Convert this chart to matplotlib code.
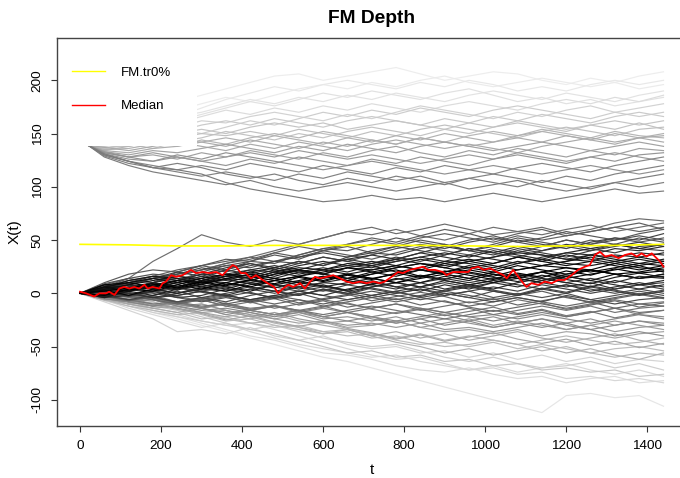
"""FM Depth - functional data coloured by Fraiman-Muniz depth."""

import matplotlib.pyplot as plt
import matplotlib.patches as mpatches
import numpy as np

plt.rcParams['font.family'] = ['Liberation Sans', 'DejaVu Sans']
plt.rcParams['axes.unicode_minus'] = False

# grid of the sampled curves (every 60 steps of t)
t_grid = list(range(0, 1441, 60))
t_grid_up = [20] + list(range(60, 1441, 60))

# curves that start at 0
lower = [
    [0, 8, 14, 30, 42, 55, 48, 44, 50, 46, 52, 58, 55, 60, 54, 50, 56, 62, 58, 55, 60, 64, 58, 62, 66],
    [0, 6, 12, 10, 18, 22, 28, 34, 40, 46, 52, 58, 62, 56, 60, 65, 60, 55, 58, 62, 56, 60, 66, 70, 68],
    [0, 4, 8, 14, 12, 20, 26, 30, 28, 36, 42, 40, 46, 52, 48, 44, 50, 54, 48, 52, 58, 54, 50, 56, 60],
    [0, -2, 6, 10, 16, 14, 22, 28, 24, 30, 26, 34, 38, 36, 42, 46, 40, 44, 50, 46, 42, 48, 52, 50, 56],
    [0, 10, 18, 22, 20, 26, 32, 30, 38, 34, 40, 36, 32, 38, 44, 40, 36, 42, 38, 44, 50, 46, 52, 48, 52],
    [0, 2, 8, 6, 12, 18, 16, 22, 20, 26, 30, 26, 24, 30, 34, 30, 36, 32, 28, 34, 38, 36, 42, 40, 44],
    [0, 6, 4, 10, 14, 10, 16, 20, 24, 20, 18, 24, 28, 32, 28, 26, 30, 34, 38, 36, 32, 30, 36, 34, 38],
    [0, -4, 2, 8, 6, 12, 10, 16, 22, 18, 22, 28, 26, 20, 24, 30, 28, 24, 30, 26, 30, 36, 32, 28, 32],
    [0, 5, 12, 16, 14, 10, 16, 14, 20, 24, 22, 18, 22, 26, 22, 20, 26, 22, 28, 32, 28, 26, 30, 26, 30],
    [0, 3, -2, 4, 8, 14, 18, 16, 12, 16, 20, 24, 20, 24, 28, 24, 20, 16, 22, 26, 24, 20, 24, 28, 26],
    [0, 8, 10, 6, 12, 8, 14, 18, 14, 10, 16, 12, 18, 22, 16, 20, 24, 20, 26, 22, 18, 22, 28, 24, 22],
    [0, -2, 4, 2, 8, 4, 10, 6, 12, 16, 12, 18, 14, 10, 14, 18, 22, 18, 14, 20, 24, 22, 18, 20, 24],
    [0, 4, 2, 8, 4, 10, 6, 2, 8, 12, 16, 12, 8, 14, 10, 16, 12, 18, 14, 10, 16, 12, 18, 14, 16],
    [0, -3, 2, -2, 4, 8, 4, 10, 14, 10, 6, 10, 14, 10, 16, 12, 8, 12, 16, 12, 18, 22, 18, 14, 18],
    [0, 2, 6, 4, 0, 4, 8, 12, 8, 4, 8, 2, 6, 10, 6, 12, 8, 4, 10, 14, 10, 6, 12, 8, 12],
    [0, -4, -2, 2, 6, 2, -2, 4, 8, 6, 10, 8, 12, 6, 10, 4, 8, 12, 8, 4, 8, 2, 6, 10, 6],
    [0, 3, 0, -4, 0, 4, 2, 6, 2, -2, 4, 0, 6, 10, 6, 2, 6, 10, 14, 10, 6, 10, 4, 8, 10],
    [0, -2, -6, -2, 2, -4, 0, 4, 0, 6, 2, 8, 4, 0, 4, -2, 2, 6, 2, 8, 4, 0, 4, 8, 4],
    [0, 2, -2, 2, -4, -2, 4, 0, -4, 2, 6, 2, -2, 2, 6, 10, 6, 2, -2, 4, 0, 6, 2, -2, 2],
    [0, -3, 1, -4, -8, -4, -8, -2, 2, -2, 4, 0, -4, 0, 4, 0, -4, 2, -2, 4, 8, 4, 0, 4, 0],
    [0, 1, 4, 0, -4, -8, -4, -8, -4, 0, -6, -2, 2, -2, -6, -2, 2, -4, 0, -4, 0, -6, -2, 2, -2],
    [0, -2, -6, -4, -8, -4, -10, -6, -2, -6, -10, -6, -2, -6, -2, 2, -2, -6, -2, 2, -4, -8, -4, 0, -4],
    [0, -4, -2, -6, -10, -6, -12, -8, -14, -10, -6, -10, -14, -10, -16, -12, -8, -12, -6, -10, -14, -10, -6, -10, -8],
    [0, -2, -6, -10, -8, -12, -10, -14, -12, -16, -12, -18, -14, -10, -14, -18, -14, -20, -16, -12, -16, -12, -18, -14, -12],
    [0, 2, -4, -2, -8, -6, -12, -16, -12, -16, -20, -16, -12, -16, -20, -24, -20, -16, -20, -16, -22, -18, -14, -18, -16],
    [0, -5, -8, -6, -12, -16, -14, -18, -22, -18, -14, -18, -22, -26, -22, -18, -22, -20, -24, -20, -24, -28, -24, -20, -22],
    [0, -3, -8, -12, -10, -14, -18, -16, -20, -18, -24, -22, -26, -22, -28, -24, -28, -32, -28, -24, -28, -24, -30, -26, -28],
    [0, -6, -4, -10, -14, -18, -16, -22, -18, -24, -28, -26, -30, -26, -32, -28, -24, -30, -26, -30, -34, -30, -26, -30, -34],
    [0, -2, -8, -6, -12, -10, -16, -20, -24, -20, -26, -30, -28, -32, -28, -34, -32, -36, -32, -28, -34, -30, -36, -32, -30],
    [0, -4, -10, -14, -12, -18, -22, -18, -24, -28, -26, -32, -30, -26, -32, -36, -34, -38, -34, -40, -36, -38, -42, -38, -36],
    [0, -6, -12, -16, -20, -18, -24, -28, -26, -32, -36, -34, -38, -42, -38, -44, -40, -44, -48, -44, -40, -44, -48, -46, -42],
    [0, -5, -8, -14, -18, -24, -22, -28, -32, -30, -36, -40, -38, -44, -48, -46, -50, -46, -52, -48, -52, -56, -52, -50, -54],
    [0, -3, -10, -8, -14, -20, -26, -24, -30, -34, -38, -36, -42, -40, -46, -50, -48, -44, -48, -54, -50, -56, -60, -56, -58],
    [0, -8, -16, -24, -36, -34, -38, -32, -40, -44, -40, -48, -52, -50, -56, -54, -60, -56, -62, -58, -64, -60, -66, -62, -64],
    [0, -4, -8, -12, -16, -22, -28, -34, -38, -44, -50, -56, -54, -60, -58, -64, -62, -68, -66, -72, -70, -74, -72, -78, -76],
    [0, -6, -10, -16, -20, -26, -30, -28, -34, -40, -46, -52, -58, -62, -60, -66, -72, -70, -76, -74, -80, -78, -82, -80, -84],
    [0, -6, -12, -18, -24, -30, -36, -42, -48, -54, -60, -64, -70, -76, -82, -88, -94, -100, -106, -112, -96, -94, -98, -96, -106],
    [0, -5, -10, -16, -22, -28, -34, -40, -44, -50, -56, -58, -62, -68, -72, -74, -70, -76, -80, -78, -84, -80, -78, -84, -82],
    [0, -6, -14, -20, -26, -32, -28, -36, -42, -48, -52, -56, -60, -58, -64, -68, -72, -68, -74, -70, -66, -72, -76, -72, -78],
    [0, 5, 10, 14, 18, 24, 20, 26, 30, 34, 38, 34, 40, 44, 40, 36, 42, 38, 34, 40, 44, 40, 46, 42, 40],
    [0, -2, 4, 10, 6, 12, 18, 22, 26, 22, 28, 32, 36, 32, 38, 34, 30, 34, 40, 36, 32, 36, 34, 38, 36],
    [0, 4, 8, 12, 16, 12, 16, 20, 16, 22, 18, 14, 18, 24, 28, 24, 30, 26, 22, 26, 30, 34, 30, 34, 30],
    [0, 6, 2, 6, 10, 6, 2, 8, 12, 8, 14, 18, 14, 18, 22, 18, 14, 20, 16, 20, 14, 18, 22, 26, 20],
    [0, -3, 0, -4, -2, 2, -2, -6, -2, 2, -2, 4, 8, 4, 10, 14, 10, 14, 18, 14, 10, 14, 10, 16, 14],
    [0, 2, -3, -6, -10, -6, -2, -6, -10, -6, -12, -8, -4, -8, -4, -8, -12, -8, -4, -8, -12, -8, -14, -10, -12],
    [0, -5, -8, -12, -8, -14, -10, -16, -20, -16, -22, -18, -22, -18, -14, -18, -22, -26, -22, -18, -22, -18, -14, -20, -24],
    [0, 3, 6, 2, -2, 2, 6, 10, 6, 2, -2, -6, -2, 2, -4, 0, -4, -8, -4, -8, -2, -6, -10, -6, -4],
    [0, 7, 12, 16, 22, 26, 30, 34, 30, 36, 42, 46, 50, 46, 52, 56, 52, 48, 54, 50, 54, 58, 62, 58, 62],
    [0, 9, 14, 18, 16, 22, 26, 24, 30, 28, 34, 30, 36, 42, 46, 42, 48, 52, 48, 44, 50, 46, 50, 54, 50],
    [0, -1, 3, 8, 12, 10, 14, 12, 18, 22, 18, 24, 22, 26, 22, 28, 32, 28, 34, 30, 26, 30, 26, 22, 26],
    [0, 6, 14, 10, 20, 26, 22, 30, 36, 32, 40, 44, 38, 44, 50, 46, 40, 46, 52, 48, 44, 50, 46, 52, 48],
    [0, 4, 10, 16, 12, 18, 24, 28, 22, 28, 34, 30, 26, 32, 38, 44, 40, 36, 42, 38, 34, 40, 44, 48, 44],
    [0, 2, 8, 14, 20, 16, 22, 18, 24, 30, 26, 32, 28, 34, 30, 36, 42, 38, 44, 40, 46, 42, 38, 44, 46],
    [0, 8, 4, 10, 6, 12, 18, 14, 20, 16, 22, 26, 30, 26, 32, 28, 24, 28, 34, 30, 36, 32, 28, 32, 28],
    [0, 5, 9, 14, 18, 22, 28, 32, 38, 44, 40, 46, 52, 48, 54, 60, 56, 50, 56, 60, 54, 58, 62, 66, 60],
    [0, 3, 8, 4, 10, 16, 12, 18, 14, 20, 24, 20, 26, 30, 34, 38, 34, 40, 36, 32, 38, 42, 46, 42, 46],
    [0, 2, 5, 9, 5, 11, 7, 13, 9, 15, 11, 17, 13, 19, 15, 21, 17, 13, 19, 15, 21, 17, 23, 19, 21],
    [0, -2, 3, 7, 3, 9, 13, 9, 5, 11, 7, 3, 9, 13, 17, 13, 19, 15, 11, 17, 13, 9, 15, 19, 15],
    [0, 4, 8, 4, 0, 6, 10, 6, 2, 6, 10, 14, 10, 6, 2, 8, 4, 10, 6, 12, 16, 12, 8, 4, 8],
    [0, 1, -3, 1, 5, 1, -3, 1, -5, -1, 3, -1, 5, 1, -3, 3, 7, 3, -1, 5, 1, 7, 3, -1, 3],
    [0, -3, -7, -3, -9, -5, -1, -7, -3, -9, -5, -1, -7, -3, 1, -3, -9, -5, -11, -7, -3, -9, -5, -1, -5],
    [0, 6, 10, 14, 10, 14, 8, 12, 18, 22, 18, 14, 20, 16, 22, 18, 14, 10, 16, 20, 16, 22, 18, 14, 18],
    [0, -4, -8, -4, -10, -14, -10, -16, -20, -16, -22, -26, -22, -28, -24, -30, -26, -32, -28, -24, -30, -34, -30, -26, -30],
    [0, -6, -10, -14, -18, -14, -20, -24, -20, -26, -30, -34, -40, -36, -42, -38, -44, -40, -36, -42, -46, -42, -38, -44, -48],
    [0, -2, -6, -12, -8, -14, -20, -16, -12, -18, -22, -18, -24, -28, -24, -20, -26, -22, -28, -32, -28, -34, -40, -36, -40],
    [0, -5, -10, -8, -14, -10, -16, -22, -28, -32, -38, -34, -40, -46, -50, -56, -52, -58, -54, -50, -56, -52, -58, -62, -56],
    [0, -3, -1, -5, -9, -13, -9, -15, -11, -17, -13, -9, -15, -19, -15, -21, -17, -13, -19, -15, -21, -17, -23, -19, -16],
    [0, -7, -12, -18, -22, -26, -30, -34, -30, -36, -42, -46, -50, -48, -54, -60, -64, -60, -66, -70, -68, -64, -70, -66, -72],
    [0, -1, -5, -11, -15, -19, -25, -21, -27, -31, -27, -33, -37, -43, -39, -45, -41, -37, -43, -47, -43, -49, -45, -51, -47],
    [0, 3, -1, 3, -3, -7, -3, -9, -5, -11, -7, -13, -9, -5, -11, -7, -13, -17, -13, -9, -15, -11, -7, -13, -9],
]

# curves that start at 139
upper = [
    [139, 150, 162, 170, 180, 186, 192, 198, 204, 206, 200, 204, 208, 212, 206, 200, 204, 208, 206, 200, 196, 202, 198, 204, 208],
    [139, 146, 154, 164, 172, 178, 184, 180, 186, 192, 196, 192, 198, 194, 200, 204, 198, 194, 198, 202, 198, 194, 198, 192, 196],
    [139, 144, 152, 158, 166, 170, 176, 182, 178, 184, 180, 186, 182, 188, 184, 180, 186, 190, 186, 182, 188, 184, 180, 186, 190],
    [139, 142, 148, 156, 160, 166, 172, 168, 174, 170, 176, 172, 178, 174, 170, 176, 180, 176, 172, 178, 182, 178, 184, 180, 186],
    [139, 140, 146, 150, 156, 162, 160, 166, 170, 166, 162, 168, 164, 170, 176, 172, 168, 164, 170, 166, 172, 176, 170, 174, 178],
    [139, 138, 144, 148, 152, 158, 162, 158, 164, 160, 156, 162, 166, 162, 158, 164, 160, 166, 162, 168, 164, 160, 166, 170, 166],
    [139, 136, 140, 146, 150, 154, 150, 156, 160, 156, 160, 154, 158, 162, 158, 154, 160, 156, 162, 158, 154, 158, 162, 158, 162],
    [139, 137, 138, 142, 146, 150, 148, 152, 148, 154, 150, 146, 152, 148, 154, 158, 154, 150, 146, 152, 156, 152, 148, 154, 156],
    [139, 135, 136, 140, 144, 142, 146, 142, 148, 144, 140, 146, 142, 148, 144, 150, 146, 142, 148, 152, 148, 144, 150, 146, 150],
    [139, 134, 132, 136, 138, 142, 138, 144, 140, 136, 142, 138, 144, 140, 146, 142, 138, 142, 146, 142, 148, 144, 140, 146, 142],
    [139, 133, 130, 134, 132, 136, 140, 136, 132, 138, 134, 140, 136, 132, 138, 142, 138, 134, 138, 142, 138, 134, 138, 142, 138],
    [139, 132, 128, 130, 126, 132, 128, 134, 130, 126, 132, 128, 134, 138, 132, 128, 134, 130, 136, 132, 128, 134, 130, 136, 134],
    [139, 131, 126, 124, 128, 124, 120, 126, 122, 128, 124, 120, 126, 122, 128, 124, 120, 126, 130, 126, 122, 128, 124, 130, 132],
    [139, 130, 124, 120, 116, 120, 116, 122, 118, 114, 120, 116, 112, 118, 114, 120, 116, 112, 118, 122, 118, 114, 120, 124, 128],
    [139, 129, 122, 118, 114, 110, 114, 110, 106, 112, 108, 114, 110, 106, 110, 104, 108, 112, 108, 104, 110, 106, 112, 116, 120],
    [139, 128, 120, 114, 110, 106, 102, 106, 100, 96, 100, 104, 100, 96, 100, 104, 98, 102, 106, 100, 96, 100, 104, 108, 112],
    [139, 130, 124, 118, 116, 112, 104, 98, 94, 90, 86, 88, 92, 88, 90, 86, 90, 94, 90, 86, 90, 94, 98, 94, 96],
    [139, 132, 128, 124, 130, 126, 132, 128, 124, 120, 116, 120, 124, 120, 116, 112, 116, 120, 116, 112, 116, 120, 116, 112, 116],
    [139, 141, 150, 156, 162, 168, 174, 180, 176, 182, 188, 184, 190, 186, 182, 188, 192, 186, 180, 184, 178, 182, 176, 180, 184],
    [139, 143, 150, 158, 166, 174, 182, 188, 194, 190, 196, 200, 196, 192, 198, 194, 200, 196, 190, 194, 190, 196, 200, 196, 200],
    [139, 138, 142, 148, 154, 150, 156, 162, 158, 164, 170, 166, 172, 168, 174, 170, 166, 172, 176, 172, 168, 164, 170, 166, 170],
    [139, 136, 140, 136, 142, 146, 152, 148, 144, 150, 146, 152, 156, 152, 148, 154, 150, 156, 160, 156, 152, 158, 154, 160, 154],
    [139, 134, 138, 142, 138, 144, 140, 146, 150, 146, 152, 148, 144, 140, 146, 142, 148, 152, 148, 154, 150, 146, 152, 148, 146],
    [139, 131, 124, 118, 122, 118, 112, 108, 112, 106, 102, 108, 104, 110, 106, 102, 108, 104, 100, 106, 102, 98, 104, 100, 104],
    [139, 133, 128, 132, 128, 124, 128, 132, 128, 134, 130, 126, 130, 126, 122, 126, 130, 126, 132, 128, 124, 128, 132, 128, 124],
    [139, 137, 134, 138, 142, 138, 134, 140, 136, 142, 138, 134, 140, 144, 140, 136, 140, 136, 132, 138, 142, 146, 142, 146, 148],
]

# trimmed mean (0%)
t_mean = list(range(0, 1441, 120))
fm_mean = [46, 45.5, 44.5, 44.5, 45, 45, 45, 45, 44.5, 44, 44.5, 45, 46]

# deepest curve (median)
t_med = [0, 15, 35, 48, 64, 72, 85, 97, 109, 122, 134, 146, 159, 167, 179, 196, 204, 212, 225, 237,
         253, 274, 286, 303, 319, 336, 352, 364, 377, 385, 397, 409, 422, 434, 451, 463, 479, 489, 501, 514,
         526, 543, 555, 568, 580, 592, 609, 625, 642, 658, 674, 691, 707, 724, 740, 752, 769, 785, 797, 814,
         831, 847, 859, 876, 896, 904, 921, 941, 958, 967, 983, 996, 1012, 1029, 1045, 1053, 1069, 1082, 1094, 1102,
         1114, 1131, 1147, 1164, 1180, 1196, 1213, 1229, 1246, 1258, 1271, 1283, 1296, 1312, 1329, 1345, 1361, 1374, 1386, 1398,
         1411, 1423, 1431, 1440]
median = [1.5, 0, -3, 0, 0, 1.5, -1.5, 4.5, 6, 4.5, 6, 4.5, 8, 4.5, 6, 4.5, 9.5, 11, 17, 15.5,
          17, 22, 19, 20, 19, 20, 17, 22, 26.5, 25, 19, 19, 14, 17, 12.5, 9.5, 6, 0, 4.5, 8,
          6, 9.5, 4.5, 11, 15.5, 14, 15.5, 17, 14, 11, 9.5, 11, 9.5, 11, 9.5, 11, 15.5, 20, 19, 22,
          23.5, 25, 22, 22, 20, 17, 20, 20, 20, 23.5, 25, 22, 23.5, 20, 17, 14, 22, 15.5, 9.5, 6,
          9.5, 8, 11, 9.5, 12.5, 12.5, 17, 22, 25, 26.5, 36, 39, 34.5, 36, 33, 36, 37.5, 34.5, 37.5, 34.5,
          37.5, 33, 30, 25]

# Fraiman-Muniz depth -> grey level by rank
X = np.array(lower + upper, dtype=float)
n = X.shape[0]
F = (X[None, :, :] <= X[:, None, :]).mean(axis=1)
depth = (1 - np.abs(0.5 - F)).mean(axis=1)
rank = np.argsort(np.argsort(depth))
grey = 0.93 * (1 - rank / (n - 1))

fig = plt.figure(figsize=(6.8, 4.78), dpi=100)
ax = fig.add_axes([0.0834, 0.1094, 0.9266, 0.8117])

for i in np.argsort(depth):
    tt = t_grid if i < len(lower) else t_grid_up
    ax.plot(tt, X[i], color=str(grey[i]), lw=0.85, zorder=2)

# legend background (white box over the curves)
ax.add_patch(mpatches.Rectangle((-57.5, 138.5), 288 + 57.5, 110, facecolor='white',
                                edgecolor='none', zorder=2.2))

ax.plot(t_mean, fm_mean, color='yellow', lw=1.2, zorder=4, label='FM.tr0%')
ax.plot(t_med, median, color='red', lw=1.3, zorder=5, label='Median')

ax.set_xlim(-57.5, 1497.5)
ax.set_ylim(-124.3, 240)
ax.set_xticks(range(0, 1401, 200))
ax.set_yticks(range(-100, 201, 50))
ax.tick_params(direction='out', length=4.3, width=0.8, labelsize=9.7, color='#333333', pad=5)
ax.tick_params(axis='x', pad=6)
for lab in ax.get_yticklabels():
    lab.set_rotation(90)
    lab.set_va('center')
for s in ax.spines.values():
    s.set_color('#444444')
    s.set_linewidth(1.0)

ax.text(0.5, 1.0508, 'FM Depth', transform=ax.transAxes, ha='center', va='center',
        fontsize=13.8, fontweight='bold')
ax.text(0.5, -0.114, 't', transform=ax.transAxes, ha='center', va='center', fontsize=11)
ax.text(-0.066, 0.5, 'X(t)', transform=ax.transAxes, ha='center', va='center',
        rotation=90, fontsize=11)

leg = ax.legend(loc='upper left', bbox_to_anchor=(0.025, 0.925), frameon=False,
                fontsize=9.5, handlelength=2.5, handletextpad=1.2, labelspacing=1.6,
                borderpad=0, borderaxespad=0)
for line in leg.get_lines():
    line.set_linewidth(1.0)
leg.set_zorder(6)

fig.savefig('out.png', dpi=100)
